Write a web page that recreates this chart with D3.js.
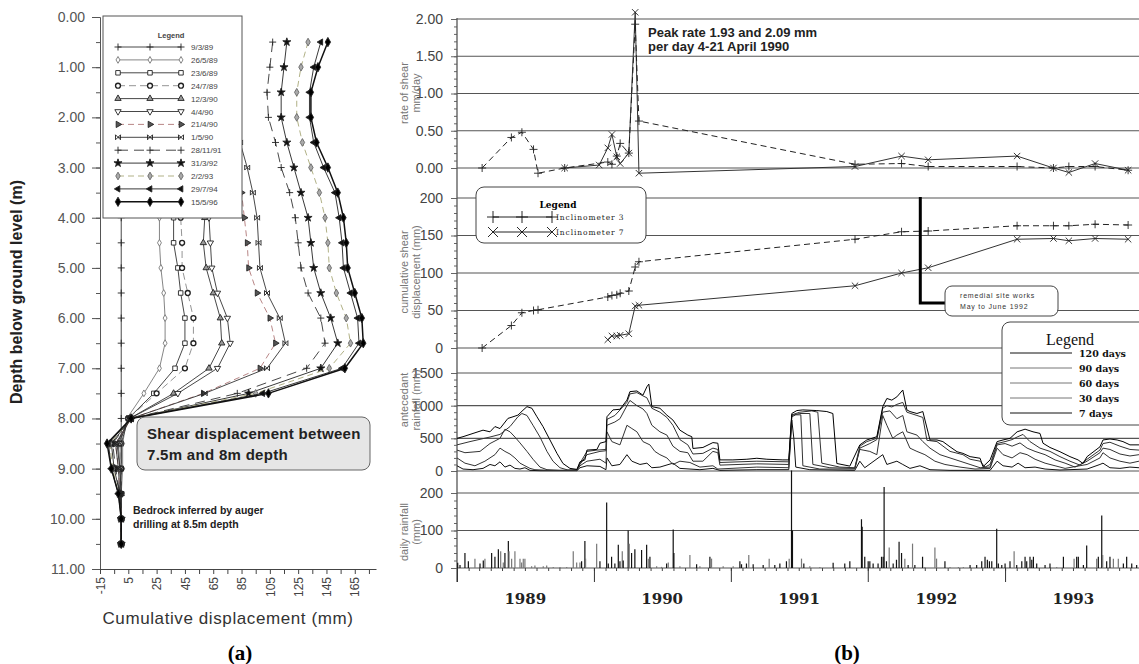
<!DOCTYPE html>
<html>
<head>
<meta charset="utf-8">
<script src="https://cdn.jsdelivr.net/npm/d3@7"></script>
<style>
  body { margin: 0; background: #fff; }
  svg { display: block; font-family: "Liberation Sans", Arial, sans-serif; }
</style>
</head>
<body>
<svg id="chart" width="1139" height="664"></svg>
<script>
// ---------- (a) inclinometer profiles ----------
const depths = [0.5, 1, 1.5, 2, 2.5, 3, 3.5, 4, 4.5, 5, 5.5, 6, 6.5, 7, 7.5, 8, 8.5, 9, 9.5, 10, 10.5];
const profileDates = ["9/3/89", "26/5/89", "23/6/89", "24/7/89", "12/3/90", "4/4/90", "21/4/90",
  "1/5/90", "28/11/91", "31/3/92", "2/2/93", "29/7/94", "15/5/96"];
// displacement (mm) at each depth, one row per survey date
const profiles = [
  [0, 0, 0, 0, 0, 0, 0, 0, 0, 0, 0, 0, 0, 0, 0, 0, 0, 0, 0, 0, 0],
  [26, 26, 26, 26, 26, 26, 26, 27, 27, 28, 30, 31, 31, 27, 16, 4, 1, 1, 0, 0, 0],
  [36, 36, 36, 36, 36, 37, 37, 37, 37, 40, 42, 45, 45, 38, 23, 5, 0, 0, 0, 0, 0],
  [41, 41, 41, 41, 41, 42, 42, 42, 43, 43, 47, 51, 51, 45, 25, 5, -1, 0, 0, 0, 0],
  [57, 56, 55, 55, 56, 57, 58, 59, 58, 60, 65, 70, 71, 62, 37, 6, -2, -1, 0, 0, 0],
  [60, 59, 58, 58, 59, 60, 61, 62, 63, 64, 68, 75, 77, 68, 40, 6, -3, -1, 0, 0, 0],
  [78, 76, 75, 75, 78, 82, 85, 87, 89, 90, 96, 105, 109, 98, 58, 7, -4, -2, -1, 0, 0],
  [82, 80, 79, 79, 84, 89, 93, 96, 97, 98, 103, 112, 116, 103, 59, 7, -4, -2, -1, 0, 0],
  [107, 105, 103, 104, 109, 113, 119, 123, 125, 127, 132, 141, 144, 131, 82, 7, -6, -4, -1, 0, 0],
  [117, 115, 113, 113, 117, 122, 127, 132, 134, 136, 141, 148, 153, 141, 90, 7, -7, -5, -1, 0, 0],
  [132, 127, 124, 124, 128, 134, 140, 144, 146, 147, 152, 159, 162, 147, 95, 7, -8, -6, -2, 0, 0],
  [141, 136, 133, 133, 136, 143, 151, 154, 156, 157, 162, 167, 168, 156, 100, 7, -9, -7, -2, 0, 0],
  [146, 139, 134, 134, 138, 146, 153, 157, 159, 160, 165, 170, 171, 158, 104, 7, -10, -7, -2, 0, 0]
];
const depthTicks = [0, 1, 2, 3, 4, 5, 6, 7, 8, 9, 10, 11];
const dispTicks = [-15, 5, 25, 45, 65, 85, 105, 125, 145, 165];

// ---------- (b) time series ----------
const rate3Dates = ["1989-03-09", "1989-05-26", "1989-06-23", "1989-07-24", "1989-08-05", "1989-10-15",
  "1990-02-07", "1990-02-18", "1990-03-03", "1990-03-12", "1990-04-04", "1990-04-21", "1990-05-01",
  "1991-11-28", "1992-03-31", "1992-06-10", "1993-02-02", "1993-05-10", "1993-06-20", "1993-08-29", "1993-11-25"];
const rate3 = [0, 0.41, 0.48, 0.25, -0.07, 0, 0.08, 0.05, 0.16, 0.33, 0.20, 1.93, 0.63,
  0.05, 0.06, 0.02, 0.02, 0, 0.02, 0.02, -0.03];
const rate7Dates = ["1989-10-15", "1990-01-15", "1990-02-07", "1990-02-18", "1990-03-03", "1990-03-12",
  "1990-04-04", "1990-04-21", "1990-05-01", "1991-11-28", "1992-03-31", "1992-06-10", "1993-02-02",
  "1993-05-10", "1993-06-20", "1993-08-29", "1993-11-25"];
const rate7 = [0, 0.04, 0.27, 0.45, 0.15, 0.06, 0.20, 2.09, -0.07, 0.02, 0.16, 0.11, 0.16, 0, -0.06, 0.06, -0.03];

const cum3Dates = ["1989-03-09", "1989-05-26", "1989-06-23", "1989-07-24", "1989-08-05",
  "1990-02-07", "1990-02-18", "1990-03-03", "1990-03-12", "1990-04-04", "1990-04-21", "1990-05-01",
  "1991-11-28", "1992-03-31", "1992-06-10", "1993-02-02", "1993-05-10", "1993-06-20", "1993-08-29", "1993-11-25"];
const cum3 = [0, 30, 47, 50, 51, 68, 70, 71, 73, 76, 108, 115, 145, 155, 156, 163, 163, 163, 165, 164];
const cum7Dates = ["1990-02-07", "1990-02-18", "1990-03-03", "1990-03-12", "1990-04-04", "1990-04-21",
  "1990-05-01", "1991-11-28", "1992-03-31", "1992-06-10", "1993-02-02", "1993-05-10", "1993-06-20",
  "1993-08-29", "1993-11-25"];
const cum7 = [11, 16, 16, 17, 19, 56, 57, 83, 100, 107, 145, 146, 143, 146, 145];

// antecedent rainfall (mm), [decimal year, value]
const ante120 = [[1989.000,500],[1989.044,525],[1989.117,575],[1989.190,625],[1989.241,600],[1989.277,680],[1989.314,650],[1989.372,805],[1989.409,830],[1989.445,855],[1989.482,930],[1989.511,985],[1989.547,960],[1989.584,830],[1989.628,680],[1989.679,475],[1989.730,270],[1989.774,115],[1989.825,40],[1989.876,25],[1989.898,140],[1989.934,170],[1989.949,320],[1990.022,330],[1990.044,425],[1990.088,450],[1990.095,830],[1990.139,935],[1990.190,945],[1990.241,1085],[1990.263,1215],[1990.314,1225],[1990.358,1160],[1990.387,1290],[1990.401,1330],[1990.423,985],[1990.482,960],[1990.533,855],[1990.577,780],[1990.628,625],[1990.686,550],[1990.715,525],[1990.723,345],[1990.796,360],[1990.869,435],[1990.905,425],[1990.920,170],[1991.015,170],[1991.117,180],[1991.190,195],[1991.263,180],[1991.380,170],[1991.423,170],[1991.445,880],[1991.482,925],[1991.526,935],[1991.628,925],[1991.701,910],[1991.745,880],[1991.774,115],[1991.869,75],[1991.942,400],[1991.993,475],[1992.066,525],[1992.109,985],[1992.139,1110],[1992.175,1085],[1992.212,1135],[1992.255,1240],[1992.285,935],[1992.307,910],[1992.358,880],[1992.401,910],[1992.453,475],[1992.504,475],[1992.547,450],[1992.599,370],[1992.650,295],[1992.693,270],[1992.745,220],[1992.818,195],[1992.839,65],[1992.891,170],[1992.942,450],[1992.985,475],[1993.036,500],[1993.088,600],[1993.146,640],[1993.204,600],[1993.255,575],[1993.277,425],[1993.328,360],[1993.401,295],[1993.474,220],[1993.533,170],[1993.569,115],[1993.599,220],[1993.693,370],[1993.715,475],[1993.766,490],[1993.818,475],[1993.861,450],[1993.912,400],[1993.978,400]];
const ante90 = [[1989.000,400],[1989.095,450],[1989.241,520],[1989.314,560],[1989.387,680],[1989.445,830],[1989.474,880],[1989.511,850],[1989.555,700],[1989.606,520],[1989.657,300],[1989.701,150],[1989.752,50],[1989.810,15],[1989.876,20],[1989.898,120],[1989.949,300],[1990.022,320],[1990.088,330],[1990.095,790],[1990.153,850],[1990.241,1050],[1990.263,1180],[1990.314,1200],[1990.358,1150],[1990.387,1120],[1990.423,960],[1990.482,900],[1990.533,820],[1990.577,700],[1990.628,480],[1990.686,400],[1990.723,260],[1990.796,270],[1990.869,350],[1990.905,330],[1990.920,130],[1991.190,150],[1991.423,140],[1991.445,860],[1991.504,900],[1991.591,920],[1991.635,900],[1991.664,120],[1991.796,60],[1991.905,50],[1991.942,380],[1991.993,450],[1992.066,500],[1992.109,960],[1992.139,1000],[1992.175,980],[1992.212,1020],[1992.255,1050],[1992.285,900],[1992.358,850],[1992.401,820],[1992.431,470],[1992.504,450],[1992.599,300],[1992.693,250],[1992.745,180],[1992.818,150],[1992.854,60],[1992.891,100],[1992.942,420],[1993.000,450],[1993.051,480],[1993.088,520],[1993.131,560],[1993.182,450],[1993.255,350],[1993.328,300],[1993.401,220],[1993.474,150],[1993.547,90],[1993.599,180],[1993.693,320],[1993.715,420],[1993.766,440],[1993.839,380],[1993.912,330],[1993.978,320]];
const ante60 = [[1989.000,320],[1989.058,280],[1989.168,300],[1989.241,420],[1989.314,500],[1989.350,640],[1989.387,600],[1989.423,520],[1989.460,430],[1989.511,300],[1989.555,180],[1989.606,60],[1989.657,20],[1989.752,10],[1989.876,15],[1989.898,100],[1989.949,250],[1990.044,300],[1990.088,310],[1990.095,700],[1990.153,750],[1990.190,800],[1990.241,1000],[1990.263,1080],[1990.314,1000],[1990.358,950],[1990.387,880],[1990.423,700],[1990.482,600],[1990.533,550],[1990.577,380],[1990.628,300],[1990.686,280],[1990.723,150],[1990.796,150],[1990.869,300],[1990.905,280],[1990.920,90],[1991.190,110],[1991.423,100],[1991.445,850],[1991.504,880],[1991.577,880],[1991.599,100],[1991.723,50],[1991.905,40],[1991.942,350],[1992.015,420],[1992.066,480],[1992.109,900],[1992.161,920],[1992.212,800],[1992.255,850],[1992.285,600],[1992.358,550],[1992.401,450],[1992.453,350],[1992.526,250],[1992.599,200],[1992.672,150],[1992.745,100],[1992.818,50],[1992.891,60],[1992.942,400],[1993.000,420],[1993.051,380],[1993.109,430],[1993.161,350],[1993.219,300],[1993.292,250],[1993.365,170],[1993.438,120],[1993.511,60],[1993.599,150],[1993.693,280],[1993.715,350],[1993.766,330],[1993.839,260],[1993.912,230],[1993.978,250]];
const ante30 = [[1989.000,200],[1989.058,120],[1989.131,80],[1989.204,150],[1989.277,250],[1989.314,350],[1989.350,300],[1989.387,260],[1989.423,200],[1989.460,120],[1989.496,80],[1989.533,40],[1989.569,20],[1989.679,10],[1989.876,10],[1989.898,80],[1989.949,150],[1990.044,180],[1990.088,120],[1990.095,600],[1990.131,450],[1990.190,400],[1990.241,700],[1990.277,650],[1990.314,600],[1990.358,450],[1990.409,400],[1990.445,300],[1990.482,250],[1990.533,200],[1990.577,100],[1990.628,150],[1990.701,130],[1990.774,60],[1990.869,80],[1990.905,30],[1991.190,60],[1991.423,50],[1991.445,830],[1991.474,860],[1991.511,860],[1991.526,80],[1991.650,30],[1991.905,30],[1991.942,330],[1992.015,300],[1992.066,250],[1992.109,850],[1992.139,700],[1992.182,500],[1992.212,550],[1992.255,600],[1992.307,350],[1992.358,300],[1992.416,250],[1992.489,150],[1992.562,100],[1992.672,60],[1992.781,30],[1992.891,40],[1992.942,350],[1992.985,250],[1993.051,200],[1993.109,280],[1993.161,250],[1993.219,180],[1993.292,120],[1993.365,80],[1993.438,40],[1993.599,100],[1993.693,200],[1993.715,280],[1993.766,200],[1993.839,150],[1993.912,120],[1993.978,150]];
const ante7 = [[1989.000,80],[1989.044,30],[1989.117,20],[1989.190,40],[1989.241,100],[1989.277,80],[1989.314,140],[1989.350,60],[1989.387,90],[1989.423,40],[1989.460,30],[1989.496,50],[1989.533,10],[1989.606,5],[1989.876,5],[1989.898,50],[1989.949,80],[1990.044,70],[1990.088,20],[1990.095,200],[1990.131,80],[1990.190,100],[1990.241,250],[1990.277,150],[1990.336,100],[1990.387,120],[1990.423,50],[1990.482,60],[1990.577,120],[1990.628,40],[1990.774,20],[1990.869,40],[1990.920,10],[1991.190,20],[1991.423,20],[1991.445,780],[1991.460,500],[1991.474,60],[1991.577,20],[1991.905,10],[1991.942,150],[1991.978,50],[1992.109,250],[1992.139,100],[1992.212,150],[1992.255,100],[1992.307,40],[1992.380,80],[1992.453,20],[1992.599,10],[1992.891,10],[1992.942,150],[1992.985,80],[1993.051,60],[1993.095,120],[1993.146,50],[1993.219,60],[1993.292,30],[1993.401,15],[1993.599,30],[1993.693,100],[1993.715,120],[1993.766,50],[1993.839,40],[1993.912,60],[1993.978,50]];
const anteNames = ["120 days", "90 days", "60 days", "30 days", "7 days"];

// daily rainfall (mm), [decimal year, value]
const dailyRain = [[1989.005,14],[1989.022,8],[1989.058,40],[1989.083,18],[1989.131,25],[1989.168,12],[1989.192,20],[1989.204,25],[1989.253,40],[1989.277,30],[1989.302,50],[1989.319,45],[1989.338,15],[1989.350,40],[1989.375,72],[1989.380,45],[1989.399,25],[1989.423,45],[1989.460,25],[1989.472,15],[1989.484,25],[1989.496,25],[1989.545,5],[1989.569,7],[1989.630,5],[1989.655,7],[1989.703,3],[1989.752,3],[1989.801,3],[1989.849,45],[1989.874,15],[1989.898,15],[1989.910,18],[1989.934,72],[1989.939,25],[1990.020,65],[1990.044,18],[1990.093,175],[1990.105,12],[1990.129,30],[1990.153,12],[1990.178,62],[1990.190,18],[1990.207,45],[1990.214,20],[1990.250,100],[1990.258,65],[1990.275,40],[1990.299,50],[1990.348,48],[1990.385,62],[1990.397,25],[1990.409,30],[1990.458,5],[1990.494,3],[1990.531,12],[1990.543,15],[1990.579,103],[1990.584,40],[1990.628,5],[1990.701,35],[1990.750,10],[1990.774,5],[1990.847,30],[1990.859,25],[1990.944,5],[1991.017,5],[1991.066,18],[1991.078,10],[1991.114,12],[1991.131,35],[1991.163,10],[1991.236,8],[1991.280,25],[1991.321,8],[1991.358,12],[1991.406,18],[1991.426,25],[1991.443,260],[1991.450,100],[1991.516,25],[1991.533,12],[1991.577,5],[1991.650,3],[1991.747,14],[1991.832,12],[1991.869,18],[1991.954,130],[1991.959,110],[1991.978,30],[1992.003,18],[1992.015,18],[1992.039,12],[1992.075,12],[1992.100,30],[1992.112,30],[1992.119,216],[1992.136,18],[1992.156,55],[1992.185,12],[1992.209,22],[1992.228,70],[1992.246,40],[1992.270,25],[1992.294,8],[1992.326,65],[1992.343,8],[1992.399,30],[1992.416,3],[1992.489,55],[1992.501,25],[1992.562,18],[1992.599,3],[1992.660,3],[1992.696,3],[1992.745,8],[1992.793,8],[1992.830,18],[1992.854,30],[1992.871,22],[1992.886,18],[1992.903,18],[1992.939,105],[1992.951,12],[1992.976,8],[1993.000,12],[1993.036,18],[1993.066,45],[1993.085,8],[1993.122,18],[1993.146,30],[1993.158,18],[1993.182,30],[1993.195,22],[1993.207,30],[1993.231,12],[1993.292,8],[1993.328,12],[1993.377,3],[1993.426,30],[1993.504,25],[1993.523,30],[1993.535,30],[1993.572,8],[1993.596,60],[1993.669,25],[1993.681,30],[1993.706,140],[1993.713,35],[1993.742,18],[1993.766,30],[1993.791,25],[1993.827,25],[1993.864,12],[1993.888,30],[1993.925,12],[1993.961,8]];
const yearLabels = [1989, 1990, 1991, 1992, 1993];

// ---------- drawing ----------
const W = 1139, H = 664;
const svg = d3.select("#chart");
const parse = d3.timeParse("%Y-%m-%d");
const fromYear = t => {
  const y = Math.floor(t), a = new Date(y, 0, 1), b = new Date(y + 1, 0, 1);
  return new Date(+a + (t - y) * (b - a));
};

function markerPath(type, s) {
  if (type === "plus") return `M${-s},0H${s}M0,${-s}V${s}`;
  if (type === "cross") return `M${-s},${-s}L${s},${s}M${-s},${s}L${s},${-s}`;
  if (type === "bowtie") return `M${-s},${-s}L${s},${s}M${-s},${s}L${s},${-s}M${-s},${-s}V${s}M${s},${-s}V${s}`;
  const sym = { square: d3.symbolSquare, circle: d3.symbolCircle, tri: d3.symbolTriangle,
    star: d3.symbolStar, diamond: d3.symbolDiamond }[type];
  return d3.symbol(sym, s * s * 3)();
}

// styles for the 13 profiles
const profStyle = [
  { c: "#333", dash: null, m: "plus", ms: 3.5, fill: "none", rot: 0 },
  { c: "#777", dash: null, m: "diamond", ms: 2.1, fill: "#fff", rot: 0, mc: "#777" },
  { c: "#333", dash: null, m: "square", ms: 2.6, fill: "#fff", rot: 0 },
  { c: "#888", dash: "7,4", m: "circle", ms: 2.5, fill: "#fff", rot: 0, mw: 1.4 },
  { c: "#333", dash: null, m: "tri", ms: 2.4, fill: "#999", rot: 0 },
  { c: "#333", dash: null, m: "tri", ms: 2.4, fill: "#fff", rot: 180 },
  { c: "#b07878", dash: "6,4", m: "tri", ms: 2.4, fill: "#555", rot: 90 },
  { c: "#333", dash: null, m: "bowtie", ms: 2.5, fill: "none", rot: 0 },
  { c: "#333", dash: "10,6", m: "plus", ms: 3.5, fill: "none", rot: 0 },
  { c: "#222", dash: null, m: "star", ms: 2.6, fill: "#111", rot: 0 },
  { c: "#a8a878", dash: "6,4", m: "diamond", ms: 2.4, fill: "#aaa", rot: 0, mc: "#666" },
  { c: "#222", dash: null, m: "tri", ms: 2.4, fill: "#111", rot: -90 },
  { c: "#111", dash: null, m: "diamond", ms: 2.9, fill: "#000", rot: 0, w: 1.5 }
];

function drawMarks(g, pts, st, stroke) {
  g.selectAll(null).data(pts).join("path")
    .attr("transform", d => `translate(${d[0]},${d[1]}) rotate(${st.rot || 0})`)
    .attr("d", markerPath(st.m, st.ms))
    .attr("fill", st.fill)
    .attr("stroke", stroke || st.mc || "#222")
    .attr("stroke-width", st.mw || 0.9);
}

// ===== panel (a) =====
const xL = d3.scaleLinear().domain([-15, 180]).range([100, 376]);
const yL = d3.scaleLinear().domain([0, 11]).range([17, 569]);
const gA = svg.append("g");

gA.append("g").attr("transform", "translate(100,0)").attr("color", "#555")
  .call(d3.axisLeft(yL).tickValues(d3.range(0, 11.01, 0.5)).tickSize(4).tickSizeOuter(0).tickFormat(""));
gA.append("g").attr("transform", "translate(100,0)").attr("color", "#555")
  .call(d3.axisLeft(yL).tickValues(depthTicks).tickSize(8).tickSizeOuter(0).tickPadding(7).tickFormat(d3.format(".2f")))
  .call(g => g.selectAll("text").attr("font-size", 14).attr("fill", "#555").attr("font-family", "Liberation Sans, Arial"));

gA.append("g").attr("transform", "translate(0,569)").attr("color", "#444")
  .call(d3.axisBottom(xL).tickValues(d3.range(-15, 180, 10)).tickSize(5).tickSizeOuter(0)
    .tickFormat(d => dispTicks.includes(d) ? d : ""))
  .call(g => g.selectAll("text").attr("transform", "rotate(-90)").attr("text-anchor", "end")
    .attr("x", -8).attr("y", 0).attr("dy", "0.35em").attr("font-size", 12).attr("fill", "#444")
    .attr("font-family", "Liberation Sans, Arial"));

const lineL = d3.line().x(d => xL(d[0])).y(d => yL(d[1]));
profiles.forEach((row, i) => {
  const st = profStyle[i];
  const pts = row.map((v, j) => [v, depths[j]]);
  gA.append("path").attr("d", lineL(pts)).attr("fill", "none")
    .attr("stroke", st.c).attr("stroke-width", st.w || 0.9).attr("stroke-dasharray", st.dash);
  drawMarks(gA.append("g"), pts.map(p => [xL(p[0]), yL(p[1])]), st);
});

// legend (a)
const lg = gA.append("g");
lg.append("rect").attr("x", 103).attr("y", 16).attr("width", 139).attr("height", 202)
  .attr("fill", "#fff").attr("stroke", "#555");
lg.append("text").attr("x", 171).attr("y", 38).attr("text-anchor", "middle")
  .attr("font-size", 7.5).attr("font-weight", "bold").attr("fill", "#444").text("Legend");
profileDates.forEach((name, i) => {
  const st = profStyle[i], y = 47 + i * 12.9;
  lg.append("line").attr("x1", 118).attr("x2", 181).attr("y1", y).attr("y2", y)
    .attr("stroke", st.c).attr("stroke-width", st.w || 0.9).attr("stroke-dasharray", st.dash);
  drawMarks(lg.append("g"), [[118, y], [150, y], [181, y]], st);
  lg.append("text").attr("x", 191).attr("y", y + 3).attr("font-size", 8).attr("fill", "#444").text(name);
});

// annotations (a)
gA.append("rect").attr("x", 137).attr("y", 417).attr("width", 233).attr("height", 53).attr("rx", 8)
  .attr("fill", "#e6e6e6").attr("stroke", "#666");
gA.append("text").attr("x", 147).attr("y", 439).attr("font-size", 15).attr("font-weight", "bold")
  .attr("letter-spacing", 0.3).attr("fill", "#222").text("Shear displacement between");
gA.append("text").attr("x", 147).attr("y", 460).attr("font-size", 15).attr("font-weight", "bold")
  .attr("letter-spacing", 0.3).attr("fill", "#222").text("7.5m and 8m depth");
gA.append("text").attr("x", 133).attr("y", 514).attr("font-size", 10.5).attr("font-weight", "bold")
  .attr("fill", "#222").text("Bedrock inferred by auger");
gA.append("text").attr("x", 133).attr("y", 528).attr("font-size", 10.5).attr("font-weight", "bold")
  .attr("fill", "#222").text("drilling at 8.5m depth");

gA.append("text").attr("transform", "translate(22,292) rotate(-90)").attr("text-anchor", "middle")
  .attr("font-size", 16).attr("font-weight", "bold").attr("fill", "#222").text("Depth below ground level (m)");
gA.append("text").attr("x", 228).attr("y", 624).attr("text-anchor", "middle")
  .attr("font-size", 17).attr("letter-spacing", 0.6).attr("fill", "#333").text("Cumulative displacement (mm)");
gA.append("text").attr("x", 240).attr("y", 660).attr("text-anchor", "middle")
  .attr("font-family", "Liberation Serif, Times New Roman").attr("font-size", 21).attr("font-weight", "bold").text("(a)");

// ===== panel (b) =====
const x0 = 457;
const xT = d3.scaleTime().domain([new Date(1989, 0, 1), new Date(1994, 0, 1)]).range([x0, 1142]);
const gB = svg.append("g");

const yR = d3.scaleLinear().domain([0, 2]).range([168, 19]);
const yC = d3.scaleLinear().domain([0, 200]).range([348, 198]);
const yA = d3.scaleLinear().domain([0, 1500]).range([471, 373]);
const yD = d3.scaleLinear().domain([0, 200]).range([568, 493]);

function panel(y, majors, minorStep, fmt, labels, labelY) {
  const g = gB.append("g");
  g.selectAll("line.grid").data(majors).join("line").attr("class", "grid")
    .attr("x1", x0).attr("x2", W).attr("y1", d => y(d)).attr("y2", d => y(d))
    .attr("stroke", "#555").attr("stroke-width", 1.2);
  const dom = y.domain();
  g.append("g").attr("transform", `translate(${x0},0)`).attr("color", "#666")
    .call(d3.axisLeft(y).tickValues(d3.range(dom[0], dom[1] + 1e-9, minorStep)).tickSize(3).tickFormat(""))
    .call(a => a.select(".domain").remove());
  g.append("g").attr("transform", `translate(${x0},0)`).attr("color", "#666")
    .call(d3.axisLeft(y).tickValues(majors).tickSize(6).tickPadding(8).tickFormat(fmt))
    .call(a => a.select(".domain").remove())
    .call(a => a.selectAll("text").attr("font-size", 14).attr("fill", "#444")
      .attr("font-family", "Liberation Sans, Arial"));
  labels.forEach((t, i) => {
    g.append("text").attr("transform", `translate(${408 + i * 12},${labelY}) rotate(-90)`)
      .attr("text-anchor", "middle").attr("font-size", 11).attr("fill", "#777").text(t);
  });
}

panel(yR, [0, 0.5, 1, 1.5, 2], 0.1, d3.format(".2f"), ["rate of shear", "mm/day"], 93);
panel(yC, [0, 50, 100, 150, 200], 10, d3.format("d"), ["cumulative shear", "displacement (mm)"], 272);
panel(yA, [0, 500, 1000, 1500], 100, d3.format("d"), ["antecedant", "rainfall (mm)"], 400);
panel(yD, [0, 100, 200], 20, d3.format("d"), ["daily rainfall", "(mm)"], 532);

gB.append("line").attr("x1", x0).attr("x2", x0).attr("y1", 18).attr("y2", 582)
  .attr("stroke", "#555").attr("stroke-width", 1.3);

// antecedent rainfall lines
const lineA = d3.line().x(d => xT(fromYear(d[0]))).y(d => yA(d[1]));
const anteSeries = [ante7, ante30, ante60, ante90, ante120];
const anteColors = ["#111", "#333", "#333", "#333", "#000"];
anteSeries.forEach((s, i) => {
  gB.append("path").attr("d", lineA(s)).attr("fill", "none")
    .attr("stroke", anteColors[i]).attr("stroke-width", 1);
});

// daily rainfall bars
gB.append("g").selectAll("line").data(dailyRain).join("line")
  .attr("x1", d => xT(fromYear(d[0]))).attr("x2", d => xT(fromYear(d[0])))
  .attr("y1", yD(0)).attr("y2", d => yD(d[1]))
  .attr("stroke", d => d[1] < 100 && d[1] % 2 === 1 ? "#777" : "#111").attr("stroke-width", 1.2);

// time axis
gB.append("g").attr("transform", "translate(0,568)").attr("color", "#444")
  .call(d3.axisBottom(xT).ticks(d3.timeMonth.every(1)).tickSize(3).tickSizeOuter(0).tickFormat(""))
  .call(a => a.select(".domain").remove());
gB.append("g").attr("transform", "translate(0,568)").attr("color", "#333")
  .call(d3.axisBottom(xT).ticks(d3.timeYear.every(1)).tickSize(14).tickSizeOuter(0).tickFormat(""))
  .call(a => a.select(".domain").remove());
gB.selectAll("text.year").data(yearLabels).join("text").attr("class", "year")
  .attr("x", d => xT(new Date(d, 6, 2))).attr("y", 604).attr("text-anchor", "middle")
  .attr("font-family", "DejaVu Serif, serif").attr("font-weight", "bold").attr("font-size", 15)
  .attr("fill", "#222").text(d => d);

// inclinometer series
const lineT = y => d3.line().x(d => xT(d[0])).y(d => y(d[1]));
const st3 = { m: "plus", ms: 4, fill: "none" };
const st7 = { m: "cross", ms: 3.2, fill: "none" };
function drawInc(dates, vals, y, st, dash, color) {
  const pts = dates.map((d, i) => [parse(d), vals[i]]);
  gB.append("path").attr("d", lineT(y)(pts)).attr("fill", "none")
    .attr("stroke", color).attr("stroke-width", 1).attr("stroke-dasharray", dash);
  drawMarks(gB.append("g"), pts.map(p => [xT(p[0]), y(p[1])]), st, "#222");
}
drawInc(rate7Dates, rate7, yR, st7, null, "#333");
drawInc(rate3Dates, rate3, yR, st3, "6,4", "#222");
drawInc(cum7Dates, cum7, yC, st7, null, "#333");
drawInc(cum3Dates, cum3, yC, st3, "6,4", "#222");

// peak annotation
const narrow = "Liberation Sans Narrow, Arial Narrow, sans-serif";
gB.append("text").attr("x", 648).attr("y", 37).attr("font-family", narrow).attr("font-weight", "bold")
  .attr("font-size", 13).attr("fill", "#222").text("Peak rate 1.93 and 2.09 mm");
gB.append("text").attr("x", 648).attr("y", 51).attr("font-family", narrow).attr("font-weight", "bold")
  .attr("font-size", 13).attr("fill", "#222").text("per day 4-21 April 1990");

// inclinometer legend
const lb = gB.append("g");
lb.append("rect").attr("x", 476).attr("y", 187).attr("width", 170).attr("height", 56).attr("rx", 8)
  .attr("fill", "#fff").attr("stroke", "#444");
lb.append("text").attr("x", 558).attr("y", 208).attr("text-anchor", "middle")
  .attr("font-family", "DejaVu Serif, serif").attr("font-weight", "bold").attr("font-size", 9).text("Legend");
[["Inclinometer 3", { m: "plus", ms: 6, fill: "none" }], ["Inclinometer 7", { m: "cross", ms: 5, fill: "none" }]]
  .forEach(([name, st], i) => {
    const y = 217 + i * 15;
    lb.append("line").attr("x1", 493).attr("x2", 552).attr("y1", y).attr("y2", y).attr("stroke", "#222");
    drawMarks(lb.append("g"), [[493, y], [522, y], [552, y]], st, "#111");
    lb.append("text").attr("x", 556).attr("y", y + 3).attr("font-family", "DejaVu Serif, serif")
      .attr("font-size", 7.5).attr("letter-spacing", 0.9).attr("fill", "#222").text(name);
  });

// remedial works callout
gB.append("path").attr("d", `M${xT(new Date(1992, 4, 20))},197V303H945`).attr("fill", "none")
  .attr("stroke", "#000").attr("stroke-width", 3);
gB.append("rect").attr("x", 945).attr("y", 286).attr("width", 113).attr("height", 30).attr("rx", 7)
  .attr("fill", "#fff").attr("stroke", "#444");
gB.append("text").attr("x", 960).attr("y", 298).attr("font-size", 7).attr("letter-spacing", 0.8)
  .attr("fill", "#333").text("remedial site works");
gB.append("text").attr("x", 960).attr("y", 309).attr("font-size", 7).attr("letter-spacing", 0.8)
  .attr("fill", "#333").text("May to June 1992");

// antecedent legend
const la = gB.append("g");
la.append("rect").attr("x", 1002).attr("y", 322).attr("width", 150).attr("height", 103).attr("rx", 8)
  .attr("fill", "#fff").attr("stroke", "#444");
la.append("text").attr("x", 1070).attr("y", 345).attr("text-anchor", "middle")
  .attr("font-family", "Liberation Serif, serif").attr("font-size", 16).attr("fill", "#111").text("Legend");
anteNames.forEach((n, i) => {
  const y = 353 + i * 15;
  la.append("line").attr("x1", 1010).attr("x2", 1072).attr("y1", y).attr("y2", y)
    .attr("stroke", i === 0 || i === 4 ? "#111" : "#777");
  la.append("text").attr("x", 1079).attr("y", y + 3.5).attr("font-family", "DejaVu Serif, serif")
    .attr("font-weight", "bold").attr("font-size", 9.5).attr("fill", "#111").text(n);
});

gB.append("text").attr("x", 847).attr("y", 660).attr("text-anchor", "middle")
  .attr("font-family", "Liberation Serif, Times New Roman").attr("font-size", 21).attr("font-weight", "bold").text("(b)");
</script>
</body>
</html>
